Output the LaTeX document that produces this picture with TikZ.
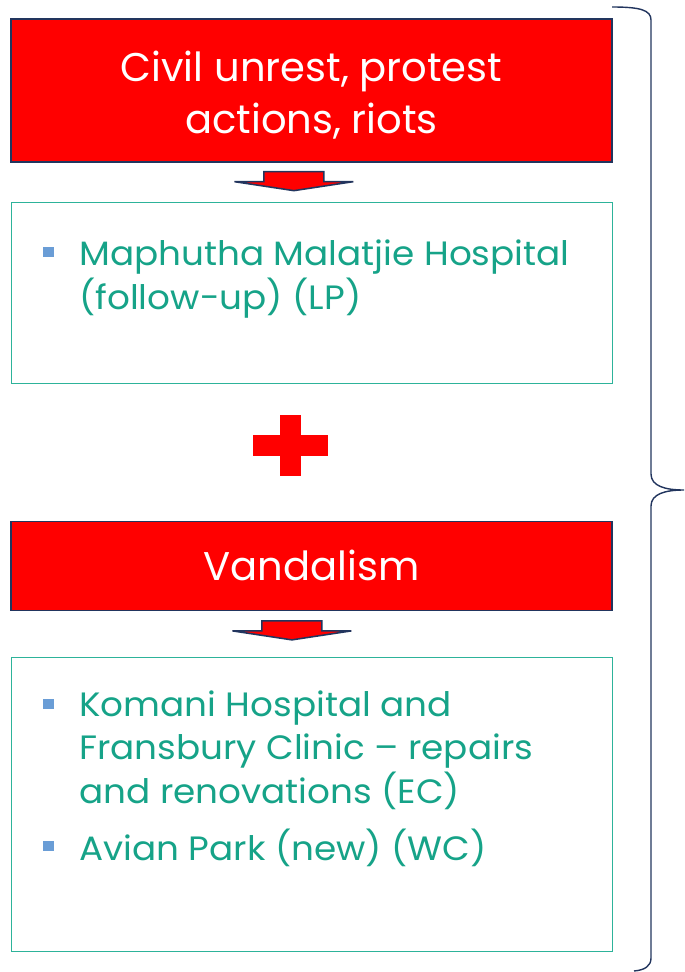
\documentclass[tikz,border=0pt]{standalone}
\usepackage{fontspec}
\setmainfont{Poppins}
\newfontfamily\entryfont[FakeStretch=1.06, Ligatures=TeX]{Poppins}
\usetikzlibrary{positioning}

\definecolor{alarmred}{HTML}{FF0000}
\definecolor{navyline}{HTML}{22355E}
\definecolor{panelteal}{HTML}{2DB39A}
\definecolor{entryteal}{HTML}{16A388}
\definecolor{bulletblue}{HTML}{6A9DD6}

\tikzset{
  hdr/.style = {
    rectangle, draw=navyline, line width=0.9pt, fill=alarmred,
    text=white, minimum width=15.025cm, align=center,
    font=\fontsize{28.5}{37}\selectfont, inner sep=0pt
  },
  panel/.style = {
    rectangle, draw=panelteal, line width=0.6pt, fill=white,
    minimum width=15.025cm, inner sep=0pt
  },
  % base west sits on the last line of an entry
  entry/.style = {
    text=entryteal, anchor=base west, align=left, inner sep=0pt,
    font=\entryfont\fontsize{24}{30.6}\selectfont
  },
  bullet/.style = {
    rectangle, fill=bulletblue, minimum size=0.27cm, inner sep=0pt
  },
  brace/.style = {draw=navyline, line width=1pt},
  downarrow/.pic = {
    \draw[fill=alarmred, draw=navyline, line width=1.1pt, line join=miter]
      (-30,0) -- (30,0) -- (30,10) -- (59.5,10) -- (0,19)
      -- (-59.5,10) -- (-30,10) -- cycle;
  }
}

\begin{document}
\begin{tikzpicture}[x=0.025cm, y=-0.025cm]
\useasboundingbox (0,0) rectangle (684,972);

%% -- first cause ------------------------------------
\node[hdr, minimum height=3.575cm] (hdr1) at (311.5,90.5)
  {\rule{0pt}{28pt}Civil unrest, protest\\actions, riots};
\node[panel, minimum height=4.525cm, below=0.975cm of hdr1] (body1) {};
\pic at ([xshift=-0.44cm, yshift=-0.225cm]hdr1.south) {downarrow};

\node[entry] (lp) at (79,309)
  {Maphutha Malatjie Hospital\\(follow-up) (LP)};
\node[bullet] (b1) at (48.5,252) {};

%% -- plus sign -------------------------------------
\fill[alarmred] (280,415) rectangle (301,476);
\fill[alarmred] (253,435) rectangle (328,456);

%% -- second cause -----------------------------------
\node[hdr, minimum height=2.225cm, below=3.425cm of body1] (hdr2)
  {Vandalism};
\node[panel, minimum height=7.35cm, below=1.15cm of hdr2] (body2) {};
\pic at ([xshift=-0.49cm, yshift=-0.25cm]hdr2.south) {downarrow};

\node[entry] (ec) at (79,803)
  {Komani Hospital and\\Fransbury Clinic -- repairs\\and renovations (EC)};
\node[bullet] (b2) at (48.5,704) {};
\node[entry] (wc) at (79,860) {Avian Park (new) (WC)};
\node[bullet] (b3) at (48.5,846) {};

%% -- brace on the right ------------------------------
\draw[brace] (612,7) .. controls (640,7) and (651,10) .. (651,20)
  -- (651,474) .. controls (651,486) and (665,490) .. (684,490)
  .. controls (665,490) and (651,494) .. (651,506)
  -- (651,958) .. controls (651,966) and (645,970) .. (634,971);

\end{tikzpicture}
\end{document}
